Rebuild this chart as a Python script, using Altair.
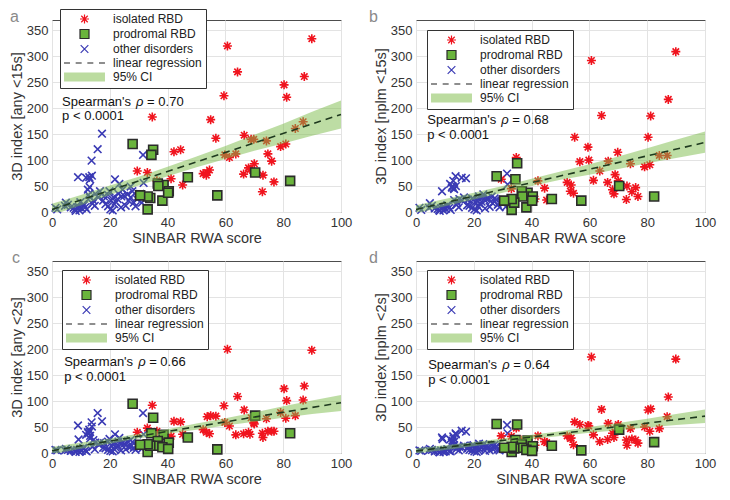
import altair as alt
import pandas as pd

# ---------------- data ----------------
groups = ["isolated RBD", "prodromal RBD", "other disorders", "linear regression", "95% CI"]

# isolated RBD: SINBAR RWA score and 3D index per panel (a, b, c, d)
irbd_x = [89.9, 60.7, 64.2, 87.3, 80.3, 59.5, 81.2, 34.7, 54.9, 84.2, 86.9, 66.5, 56.7, 69.8, 68.9,
          74.2, 80.9, 79.1, 44.5, 42.2, 59.8, 63.6, 61.4, 74.7, 76.0, 70.0, 68.0, 29.5, 33.0, 54.5,
          53.7, 52.3, 53.4, 66.3, 73.0, 41.2, 45.2, 36.3, 76.8, 72.8, 68.5]
irbd_a = [334, 320, 270, 261, 245, 224, 221, 183, 178, 161, 174, 148, 142, 140, 140,
          137, 131, 126, 120, 116, 110, 112, 105, 112, 98, 93, 85, 79, 76, 81,
          76, 74, 71, 73, 71, 64, 52, 60, 58, 39, 82]
irbd_b = [309, 292, 186, 217, 144, 125, 185, 105, 144, 109, 109, 98, 97, 115, 72,
          93, 91, 87, 46, 60, 100, 79, 61, 39, 47, 60, 43, 63, 45, 36,
          52, 57, 40, 57, 50, 25, 23, 32, 30, 24, 35]
irbd_c = [198, 200, 109, 129, 124, 91, 101, 92, 72, 72, 102, 83, 71, 58, 68,
          66, 67, 78, 60, 61, 59, 35, 52, 42, 42, 56, 40, 40, 48, 37,
          70, 45, 40, 37, 30, 32, 36, 42, 42, 38, 36]
irbd_d = [181, 185, 84, 108, 83, 53, 85, 48, 60, 47, 70, 57, 55, 52, 40,
          47, 42, 50, 22, 33, 52, 22, 35, 27, 25, 55, 38, 33, 32, 16,
          29, 33, 28, 26, 15, 15, 20, 25, 19, 25, 30]

# prodromal RBD
prbd_x = [27.9, 35.0, 34.4, 70.3, 82.4, 47.0, 57.2, 33.1, 38.6, 36.6, 36.8, 40.4, 38.2, 34.0, 33.1, 30.5, 40.2]
prbd_a = [131, 120, 110, 76, 60, 67, 32, 5, 52, 55, 50, 40, 22, 27, 30, 32, 37]
prbd_b = [69, 94, 63, 50, 30, 25, 22, 4, 37, 40, 30, 30, 9, 18, 25, 22, 22]
prbd_c = [95, 68, 38, 72, 38, 30, 7, 2, 35, 23, 14, 20, 11, 14, 17, 16, 8]
prbd_d = [56, 55, 25, 45, 21, 14, 5, 2, 24, 17, 10, 13, 6, 9, 12, 10, 4]

# other disorders
oth_x = [1.2, 1.8, 4.8, 4.5, 6.5, 8.0, 8.2, 8.7, 9.0, 9.5, 9.8, 10.3, 11.0, 11.5, 11.8, 12.0, 12.4, 12.9,
         13.2, 13.2, 13.7, 13.8, 14.3, 15.8, 16.0, 17.3, 17.7, 16.6, 19.4, 19.4, 19.9, 20.5, 21.0, 21.6,
         21.8, 22.7, 23.3, 23.9, 24.4, 25.0, 26.2, 27.2, 27.2, 27.8, 28.3, 28.9, 29.4, 31.1, 31.5, 31.7,
         30.5, 22.0, 20.2, 18.5, 15.0, 14.8, 10.8, 7.5, 25.5, 24.0, 26.5, 29.8, 12.6, 13.0, 23.0, 21.3,
         18.0, 14.0, 5.5, 9.2]
oth_a = [8, 5, 18, 12, 9, 5, 2, 9, 67, 3, 19, 7, 13, 9, 66, 5, 43, 67,
         28, 63, 99, 70, 22, 121, 28, 151, 22, 40, 33, 11, 40, 22, 3, 15,
         63, 25, 54, 9, 43, 31, 34, 49, 28, 40, 18, 11, 25, 18, 110, 56,
         35, 20, 5, 15, 35, 12, 15, 8, 12, 30, 22, 30, 33, 48, 35, 28,
         30, 16, 14, 10]
oth_b = [8, 4, 17, 8, 7, 4, 2, 7, 40, 3, 10, 6, 12, 8, 54, 4, 47, 60,
         23, 44, 69, 50, 18, 66, 22, 65, 13, 28, 26, 8, 24, 19, 3, 10,
         30, 20, 34, 7, 25, 27, 30, 26, 20, 24, 14, 9, 19, 10, 74, 53,
         22, 16, 5, 12, 25, 9, 13, 6, 10, 22, 17, 20, 50, 46, 28, 22,
         24, 14, 12, 9]
oth_c = [6, 5, 8, 5, 4, 3, 2, 6, 53, 2, 8, 4, 9, 5, 35, 3, 40, 45,
         33, 28, 59, 51, 25, 77, 17, 61, 10, 20, 22, 6, 27, 14, 3, 7,
         36, 15, 29, 5, 20, 18, 22, 25, 12, 21, 10, 6, 14, 8, 77, 36,
         17, 11, 4, 9, 20, 7, 10, 5, 7, 18, 12, 15, 38, 41, 22, 17,
         19, 12, 6, 26]
oth_d = [5, 4, 8, 5, 3, 2, 1, 5, 30, 2, 6, 3, 7, 4, 26, 3, 20, 32,
         15, 22, 38, 36, 12, 43, 10, 41, 8, 14, 14, 5, 15, 9, 2, 5,
         18, 10, 17, 4, 14, 12, 15, 16, 9, 13, 7, 5, 10, 6, 54, 38,
         12, 8, 3, 6, 12, 5, 7, 4, 5, 11, 8, 10, 24, 28, 14, 11,
         12, 8, 6, 27]

# regression lines (end points) and 95% CI band
reg_x = [0, 100]
reg_y = [[5, 188], [5, 134], [4.5, 97], [4, 71]]
ci_x = [0, 10, 20, 30, 40, 50, 60, 70, 80, 90, 100]
ci_lo = [[-6, 13, 33, 51, 69, 86, 102, 118, 132, 147, 161],
         [-3, 11, 24, 37, 50, 62, 72, 83, 94, 104, 114],
         [-2.5, 8, 18, 28, 37, 45, 53, 60, 68, 75, 81],
         [-1, 6, 13, 20, 27, 33, 39, 44, 49, 54, 58]]
ci_hi = [[16, 33, 51, 68, 87, 107, 127, 149, 170, 193, 215],
         [13, 25, 37, 50, 64, 78, 92, 107, 123, 139, 155],
         [11.5, 20, 28, 37, 46, 57, 67, 78, 90, 101, 112],
         [9, 15, 21, 28, 35, 42, 50, 58, 66, 75, 84]]

letters = ["a", "b", "c", "d"]
y_titles = ["3D index [any <15s]", "3D index [nplm <15s]", "3D index [any <2s]", "3D index [nplm <2s]"]
rho_text = ["= 0.70", "= 0.68", "= 0.66", "= 0.64"]
p_text = "p < 0.0001"
stat_x = [3.5, 3.9, 4.2, 4.2]
stat_y1 = [212, 178, 175, 170]
stat_y2 = [185, 149, 147, 141]

x_ticks = [0, 20, 40, 60, 80, 100]
y_ticks = [0, 50, 100, 150, 200, 250, 300, 350]

# ---------------- styling ----------------
FONT = "Liberation Sans"
W, H = 289, 192
leg_x = [8, 11, 10, 11]
leg_y = [-11, 10, 9, 9]
letter_x = [-42, -47, -40, -47]

asterisk = "M-1,0L1,0M0,-1L0,1M-0.72,-0.72L0.72,0.72M-0.72,0.72L0.72,-0.72"
square = "M-1,-1L1,-1L1,1L-1,1Z"
xmark = "M-0.85,-0.85L0.85,0.85M-0.85,0.85L0.85,-0.85"
dashed = "M-4.55,0L-3.22,0M-1.96,0L-0.63,0M0.63,0L1.96,0M3.22,0L4.55,0"
band = "M-4.55,-1L4.55,-1L4.55,1L-4.55,1Z"
shape_range = [asterisk, square, xmark, dashed, band]
fill_range = ["transparent", "#6ab43c", "transparent", "transparent", "#bcdca0"]
stroke_range = ["#f0141e", "#2b2b2b", "#3a3ab4", "#1e1e1e", "transparent"]

xs = alt.Scale(domain=[0, 100], nice=False, zero=False)
ys = alt.Scale(domain=[0, 370], nice=False, zero=False)


def make_panel(i, y_irbd, y_prbd, y_oth):
    pts = pd.concat([
        pd.DataFrame({"x": oth_x, "y": y_oth, "group": "other disorders"}),
        pd.DataFrame({"x": irbd_x, "y": y_irbd, "group": "isolated RBD"}),
        pd.DataFrame({"x": prbd_x, "y": y_prbd, "group": "prodromal RBD"}),
    ], ignore_index=True)
    xaxis = alt.Axis(values=x_ticks, title="SINBAR RWA score")
    yaxis = alt.Axis(values=y_ticks, title=y_titles[i])
    xenc = alt.X("x:Q", scale=xs, axis=xaxis)
    leg = alt.Legend(title=None, orient="none", legendX=leg_x[i], legendY=leg_y[i], direction="vertical",
                     symbolSize=81, symbolStrokeWidth=1.2, symbolOffset=14.5, labelOffset=22.5,
                     labelFontSize=12, labelFont=FONT, labelColor="#222", rowPadding=1,
                     padding=4, strokeColor="#333333", fillColor="white", labelLimit=200)
    points = alt.Chart(pts).mark_point(size=81, strokeWidth=1.6, opacity=1, fillOpacity=1).encode(
        x=xenc,
        y=alt.Y("y:Q", scale=ys, axis=yaxis),
        shape=alt.Shape("group:N", scale=alt.Scale(domain=groups, range=shape_range), legend=leg),
        fill=alt.Fill("group:N", scale=alt.Scale(domain=groups, range=fill_range), legend=leg),
        stroke=alt.Stroke("group:N", scale=alt.Scale(domain=groups, range=stroke_range), legend=leg),
    )
    ci = pd.DataFrame({"x": ci_x, "lo": ci_lo[i], "hi": ci_hi[i]})
    band_l = alt.Chart(ci).mark_area(fill="#7cbb4a", fillOpacity=0.5, clip=True).encode(
        x=xenc, y=alt.Y("lo:Q", scale=ys, axis=yaxis), y2="hi:Q")
    reg = pd.DataFrame({"x": reg_x, "y": reg_y[i]})
    line_l = alt.Chart(reg).mark_line(stroke="#1f3a1f", strokeDash=[7, 5], strokeWidth=1.6).encode(
        x=xenc, y=alt.Y("y:Q", scale=ys, axis=yaxis))
    st = pd.DataFrame({"x": [stat_x[i]], "y1": [stat_y1[i]], "y2": [stat_y2[i]],
                       "t1": ["Spearman's"], "t2": ["\u03c1"], "t3": [rho_text[i]], "t4": [p_text]})
    base_t = alt.Chart(st)
    tkw = dict(align="left", baseline="middle", fontSize=13, font=FONT, color="#111")
    t1 = base_t.mark_text(**tkw).encode(x=xenc, y=alt.Y("y1:Q", scale=ys, axis=yaxis), text="t1:N")
    t2 = base_t.mark_text(dx=74, fontStyle="italic", **tkw).encode(
        x=xenc, y=alt.Y("y1:Q", scale=ys, axis=yaxis), text="t2:N")
    t3 = base_t.mark_text(dx=85, **tkw).encode(x=xenc, y=alt.Y("y1:Q", scale=ys, axis=yaxis), text="t3:N")
    t4 = base_t.mark_text(**tkw).encode(x=xenc, y=alt.Y("y2:Q", scale=ys, axis=yaxis), text="t4:N")
    lt = alt.Chart(pd.DataFrame({"t": [letters[i]]})).mark_text(
        align="left", baseline="top", fontSize=16, font=FONT, color="#8a8a8a").encode(
        x=alt.value(letter_x[i]), y=alt.value(-11), text="t:N")
    return alt.layer(points, band_l, line_l, t1, t2, t3, t4, lt).properties(width=W, height=H)


pa = make_panel(0, irbd_a, prbd_a, oth_a)
pb = make_panel(1, irbd_b, prbd_b, oth_b)
pc = make_panel(2, irbd_c, prbd_c, oth_c)
pd_ = make_panel(3, irbd_d, prbd_d, oth_d)

ind = dict(shape="independent", fill="independent", stroke="independent", x="independent", y="independent")
indl = dict(shape="independent", fill="independent", stroke="independent")
row1 = alt.hconcat(pa, pb, spacing=15).resolve_scale(**ind).resolve_legend(**indl)
row2 = alt.hconcat(pc, pd_, spacing=15).resolve_scale(**ind).resolve_legend(**indl)
chart = alt.vconcat(row1, row2, spacing=4).resolve_scale(**ind).resolve_legend(**indl).properties(
    padding=0, background="white")

chart = chart.configure_view(stroke="#4d4d4d", strokeWidth=1).configure_axis(
    grid=True, gridColor="#e3e3e3", gridWidth=1, domain=False, ticks=False,
    labelFont=FONT, labelFontSize=13, labelColor="#333333", labelFlush=False,
    titleFont=FONT, titleFontSize=14.5, titleColor="#333333", titleFontWeight="normal",
).configure_axisX(labelPadding=4, titlePadding=2).configure_axisY(labelPadding=4, titlePadding=2)

chart.save("out.html", embed_options={"renderer": "svg", "actions": False})
